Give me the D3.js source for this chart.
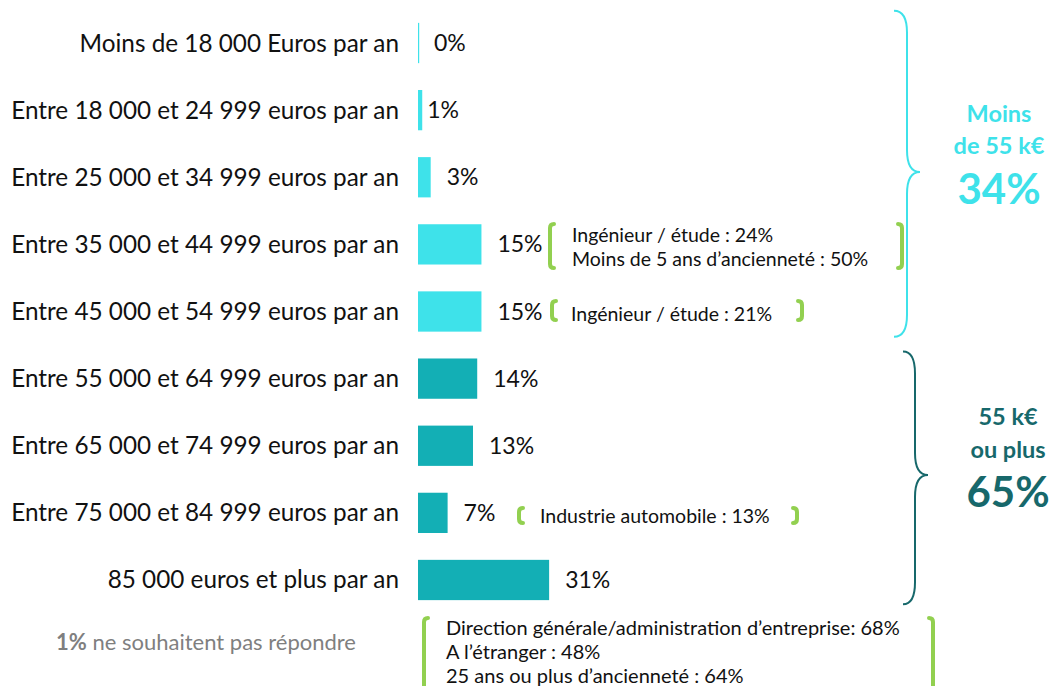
<!DOCTYPE html>
<html><head><meta charset="utf-8">
<script src="https://cdn.jsdelivr.net/npm/d3@7"></script>
<style>body{margin:0;background:#fff}svg{display:block}text{font-family:Lato,"Open Sans",sans-serif}</style>
</head><body>
<svg id="c" width="1052" height="686"></svg>
<script>
const categories = [
  "Moins de 18 000 Euros par an",
  "Entre 18 000 et 24 999 euros par an",
  "Entre 25 000 et 34 999 euros par an",
  "Entre 35 000 et 44 999 euros par an",
  "Entre 45 000 et 54 999 euros par an",
  "Entre 55 000 et 64 999 euros par an",
  "Entre 65 000 et 74 999 euros par an",
  "Entre 75 000 et 84 999 euros par an",
  "85 000 euros et plus par an"
];
const values = [0, 1, 3, 15, 15, 14, 13, 7, 31];
const groups = ["low","low","low","low","low","high","high","high","high"];
const groupLabels = {low:["Moins","de 55 k€","34%"], high:["55 k€","ou plus","65%"]};
const notes = [
  {row:3, lines:["Ingénieur / étude : 24%","Moins de 5 ans d’ancienneté : 50%"]},
  {row:4, lines:["Ingénieur / étude : 21%"]},
  {row:7, lines:["Industrie automobile : 13%"]}
];
const bottomNote = ["Direction générale/administration d’entreprise: 68%","A l’étranger : 48%","25 ans ou plus d’ancienneté : 64%"];
const noAnswer = {value:"1%", text:" ne souhaitent pas répondre"};

const colors = {low:"#3EE2EA", high:"#13AFB5"};
const braceColors = {low:"#3EE2EA", high:"#17686B"};
const green = "#92D050";

const svg = d3.select("#c");
const y = d3.scaleBand().domain(categories).range([9.45, 613.55]).paddingInner(0.4).paddingOuter(0.2);
const x = d3.scaleLinear().domain([0, 100]).range([418, 841]);
const data = categories.map((c,i)=>({c, v:values[i], g:groups[i], i}));

// category labels
svg.append("g").selectAll("text").data(data).join("text")
  .attr("x", 399).attr("y", d=>y(d.c)+y.bandwidth()/2).attr("dy","0.35em")
  .attr("text-anchor","end").attr("font-size",24.3).attr("fill","#111")
  .text(d=>d.c);

// bars
svg.append("g").selectAll("rect").data(data).join("rect")
  .attr("x", x(0)).attr("y", d=>y(d.c)).attr("height", y.bandwidth())
  .attr("width", d=>Math.max(x(d.v)-x(0), 1.2)).attr("fill", d=>colors[d.g]);

// value labels
svg.append("g").selectAll("text").data(data).join("text")
  .attr("x", d=>x(d.v) + (d.v===1 ? 5 : 16)).attr("y", d=>y(d.c)+y.bandwidth()/2).attr("dy","0.35em")
  .attr("font-size",23).attr("fill","#111").text(d=>d.v+"%");

// braces
function brace(x0,x1,x2,yTop,yMid,yBot,r){
  return `M${x0},${yTop} Q${x1},${yTop} ${x1},${yTop+r} L${x1},${yMid-r} Q${x1},${yMid} ${x2},${yMid} Q${x1},${yMid} ${x1},${yMid+r} L${x1},${yBot-r} Q${x1},${yBot} ${x0},${yBot}`;
}
const braceGeom = {
  low:{x0:894,x1:907,x2:920,top:y(categories[0])-12,bot:y(categories[4])+y.bandwidth()+5, mid:172, tx:999, ty:[122,154,204]},
  high:{x0:903,x1:915,x2:928,top:y(categories[5])-7,bot:y(categories[8])+y.bandwidth()+4, mid:475, tx:1008, ty:[425,458,507]}
};
["low","high"].forEach(g=>{
  const b = braceGeom[g];
  svg.append("path").attr("d", brace(b.x0,b.x1,b.x2,b.top,b.mid,b.bot,22))
    .attr("fill","none").attr("stroke",braceColors[g]).attr("stroke-width",2);
  const t = svg.append("g").attr("fill",braceColors[g]).attr("font-weight","bold").attr("text-anchor","middle");
  t.append("text").attr("x",b.tx).attr("y",b.ty[0]).attr("font-size",23.5).text(groupLabels[g][0]);
  t.append("text").attr("x",b.tx).attr("y",b.ty[1]).attr("font-size",23.5).text(groupLabels[g][1]);
  t.append("text").attr("x",b.tx).attr("y",b.ty[2]).attr("font-size",42).text(groupLabels[g][2]);
});

// green brackets
function bracket(xp, y0, y1, dir){
  const k = 4*dir;
  return `M${xp+k},${y0} Q${xp},${y0} ${xp},${y0+4} L${xp},${y1-4} Q${xp},${y1} ${xp+k},${y1}`;
}
const noteGeom = [
  {xl:550, xr:902, y0:224, y1:268, tx:572, lh:24},
  {xl:552, xr:802, y0:301, y1:320, tx:571, lh:24},
  {xl:519, xr:797, y0:508, y1:523, tx:540, lh:24}
];
notes.forEach((n,i)=>{
  const g = noteGeom[i];
  svg.append("path").attr("d",bracket(g.xl,g.y0,g.y1,1)).attr("fill","none").attr("stroke",green).attr("stroke-width",4).attr("stroke-linecap","round");
  svg.append("path").attr("d",bracket(g.xr,g.y0,g.y1,-1)).attr("fill","none").attr("stroke",green).attr("stroke-width",4).attr("stroke-linecap","round");
  const cy = y(categories[n.row]) + y.bandwidth()/2 + 3;
  const start = cy - (n.lines.length-1)*g.lh/2;
  n.lines.forEach((l,j)=>{
    svg.append("text").attr("x",g.tx).attr("y",start + j*g.lh).attr("dy","0.35em")
      .attr("font-size",19.5).attr("fill","#111").text(l);
  });
});

// bottom note
svg.append("path").attr("d",bracket(424,618,690,1)).attr("fill","none").attr("stroke",green).attr("stroke-width",4).attr("stroke-linecap","round");
svg.append("path").attr("d",bracket(933,618,690,-1)).attr("fill","none").attr("stroke",green).attr("stroke-width",4).attr("stroke-linecap","round");
bottomNote.forEach((l,j)=>{
  svg.append("text").attr("x",446).attr("y",628+j*24).attr("dy","0.35em").attr("font-size",20).attr("fill","#111").text(l);
});

const na = svg.append("text").attr("x",56).attr("y",642).attr("dy","0.35em").attr("font-size",22).attr("fill","#7F7F7F");
na.append("tspan").attr("font-weight","bold").text(noAnswer.value);
na.append("tspan").text(noAnswer.text);
</script>
</body></html>
